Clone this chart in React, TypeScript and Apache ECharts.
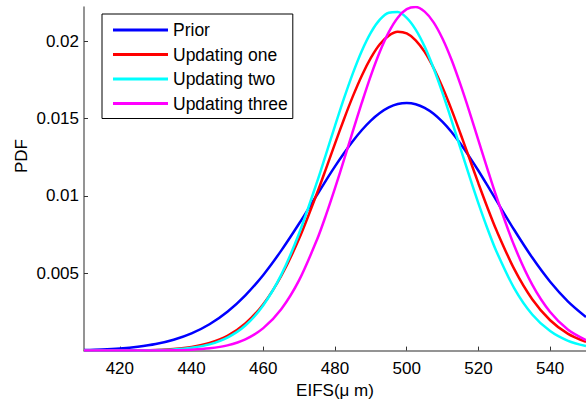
import React, { useEffect, useRef } from "react";
import * as echarts from "echarts";

const xs = [410, 415, 420, 425, 430, 435, 440, 445, 450, 455, 460, 465, 470, 475, 477.5, 480, 482.5, 485, 487.5, 490, 492.5, 495, 497.5, 500, 502.5, 505, 507.5, 510, 512.5, 515, 517.5, 520, 522.5, 525, 530, 535, 540, 545, 550];
const prior = [0.00004, 0.000076, 0.00014, 0.00025, 0.00042, 0.0007, 0.00111, 0.0017, 0.00251, 0.00357, 0.00489, 0.00646, 0.00821, 0.01007, 0.011, 0.0119, 0.01275, 0.01354, 0.01425, 0.01486, 0.01535, 0.01571, 0.01593, 0.016, 0.01592, 0.01568, 0.0153, 0.01477, 0.01412, 0.01336, 0.01252, 0.01162, 0.01067, 0.0097, 0.00779, 0.00601, 0.00445, 0.00317, 0.00217];
const updOne = [0, 0, 0.00001, 0.00002, 0.00004, 0.0001, 0.00023, 0.00049, 0.00095, 0.00175, 0.003, 0.00482, 0.00724, 0.01018, 0.01176, 0.01337, 0.01495, 0.01644, 0.01778, 0.01891, 0.01979, 0.02035, 0.0206, 0.02049, 0.02005, 0.0193, 0.01826, 0.017, 0.01557, 0.01401, 0.01241, 0.0108, 0.00925, 0.00779, 0.00526, 0.00332, 0.00196, 0.00108, 0.00056];
const updTwo = [0, 0, 0, 0.00001, 0.00003, 0.00007, 0.00018, 0.0004, 0.00084, 0.00162, 0.00293, 0.00489, 0.00758, 0.0109, 0.0127, 0.01452, 0.01629, 0.01793, 0.01938, 0.02055, 0.02138, 0.02183, 0.02187, 0.0215, 0.02074, 0.01964, 0.01824, 0.01663, 0.01488, 0.01306, 0.01125, 0.00951, 0.00789, 0.00642, 0.00402, 0.00233, 0.00126, 0.00063, 0.00029];
const updThree = [0, 0, 0, 0, 0.00001, 0.00002, 0.00006, 0.00015, 0.00034, 0.00073, 0.00145, 0.00267, 0.00455, 0.00718, 0.00877, 0.0105, 0.01232, 0.01419, 0.01603, 0.01777, 0.01931, 0.02058, 0.02151, 0.02206, 0.0222, 0.0219, 0.02121, 0.02015, 0.01879, 0.01718, 0.01543, 0.01359, 0.01174, 0.00996, 0.00677, 0.00426, 0.00249, 0.00135, 0.00068];

const seriesNames = ["Prior", "Updating one", "Updating two", "Updating three"];
const seriesColors = ["#0000ff", "#ff0000", "#00ffff", "#ff00ff"];
const xTicks = [420, 440, 460, 480, 500, 520, 540];
const yTicks = [0.005, 0.01, 0.015, 0.02];

const FONT = "Liberation Sans, Arial, sans-serif";

export default function App() {
  const ref = useRef<HTMLDivElement>(null);
  useEffect(() => {
    if (!ref.current) return;
    const chart = echarts.init(ref.current, null, { renderer: "svg" });
    const all = [prior, updOne, updTwo, updThree];
    chart.setOption({
      animation: false,
      backgroundColor: "#ffffff",
      textStyle: { fontFamily: FONT },
      grid: { left: 84, top: 7, right: -4, bottom: 57.4, containLabel: false },
      legend: {
        orient: "vertical",
        left: 102,
        top: 14,
        padding: [7, 5, 6, 11],
        icon: "rect",
        itemWidth: 55,
        itemHeight: 3,
        itemGap: 6.5,
        borderColor: "#000000",
        borderWidth: 1,
        textStyle: { fontFamily: FONT, fontSize: 17.5, color: "#000" },
        data: seriesNames,
      },
      xAxis: {
        type: "value",
        min: 410,
        max: 550,
        name: "EIFS(μ m)",
        nameLocation: "middle",
        nameGap: 31,
        nameTextStyle: { fontFamily: FONT, fontSize: 17, color: "#000" },
        axisLine: { show: true, lineStyle: { color: "#707070", width: 1.5 } },
        axisTick: { show: true, inside: true, length: 4, customValues: xTicks, lineStyle: { color: "#333" } },
        axisLabel: { customValues: xTicks, margin: 9, fontFamily: FONT, fontSize: 17, color: "#000" },
        splitLine: { show: false },
      },
      yAxis: {
        type: "value",
        min: 0,
        max: 0.0222,
        axisLine: { show: true, lineStyle: { color: "#707070", width: 1.5 } },
        axisTick: { show: true, inside: true, length: 4, customValues: yTicks, lineStyle: { color: "#333" } },
        axisLabel: { customValues: yTicks, margin: 5, fontFamily: FONT, fontSize: 17, color: "#000" },
        splitLine: { show: false },
      },
      graphic: [
        {
          type: "text",
          x: 21,
          y: 156,
          rotation: Math.PI / 2,
          style: { text: "PDF", fontFamily: FONT, fontSize: 17, fill: "#000", align: "center", verticalAlign: "middle" },
        },
      ],
      series: seriesNames.map((n, i) => ({
        name: n,
        type: "line",
        data: xs.map((x, j) => [x, all[i][j]]),
        symbol: "none",
        smooth: 0.3,
        lineStyle: { color: seriesColors[i], width: 2.5 },
        itemStyle: { color: seriesColors[i] },
      })),
    });
    return () => chart.dispose();
  }, []);
  return <div ref={ref} style={{ position: "absolute", left: 0, top: 0, width: 586, height: 408 }} />;
}
